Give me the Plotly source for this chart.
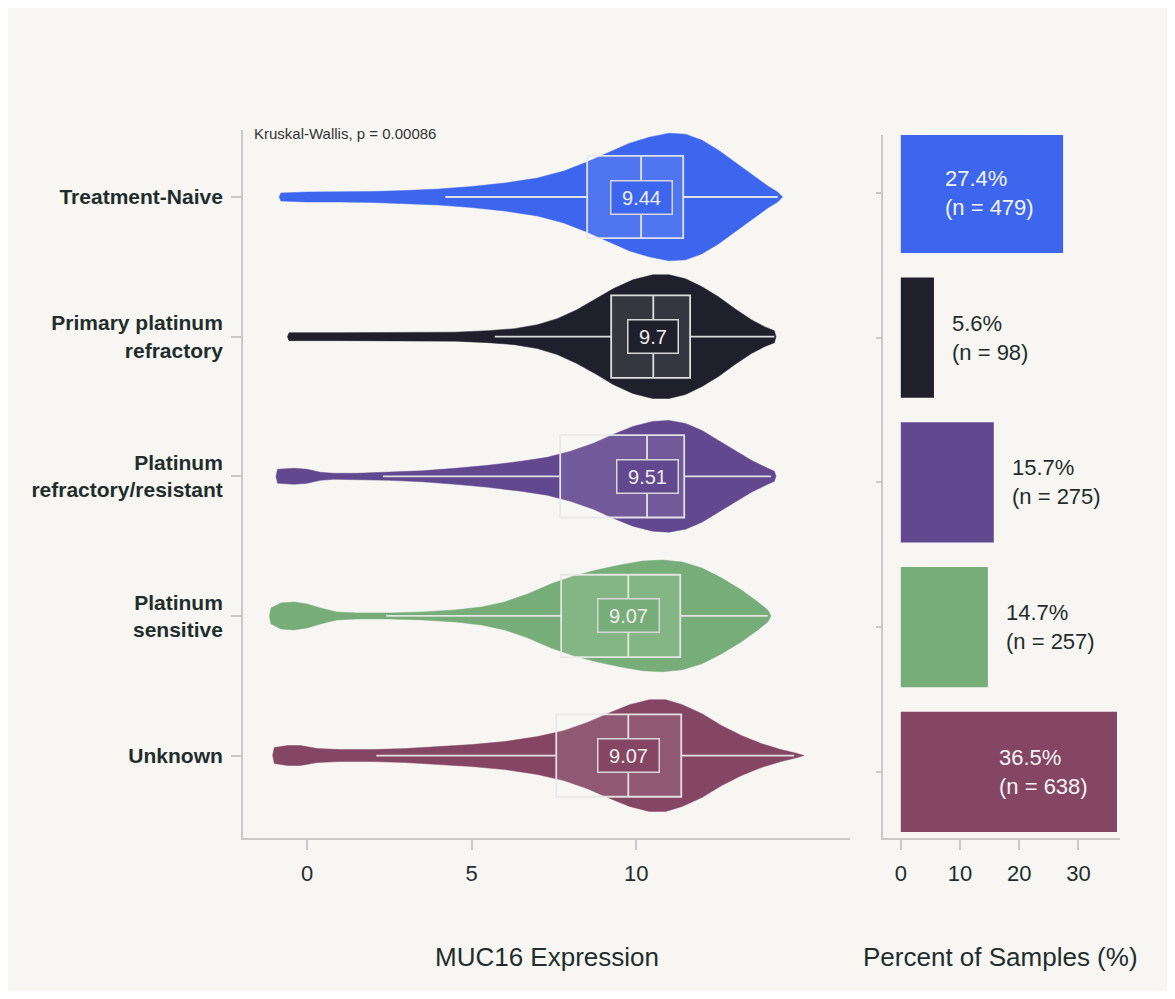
import plotly.graph_objects as go

# ---------------- data ----------------
groups = ["Treatment-Naive", "Primary platinum refractory", "Platinum refractory/resistant",
          "Platinum sensitive", "Unknown"]
group_labels = ["Treatment-Naive", "Primary platinum<br>refractory", "Platinum<br>refractory/resistant",
                "Platinum<br>sensitive", "Unknown"]
colors = ["#3d66ef", "#20202c", "#62488f", "#77ad78", "#854664"]

pct = [27.4, 5.6, 15.7, 14.7, 36.5]
n_samples = [479, 98, 275, 257, 638]

box_q1 = [8.51, 9.24, 7.69, 7.72, 7.57]
box_median = [10.15, 10.52, 10.33, 9.76, 9.76]
box_q3 = [11.43, 11.64, 11.46, 11.34, 11.37]
box_low = [4.2, 5.7, 2.3, 2.4, 2.1]
box_high = [14.3, 14.2, 14.1, 14.0, 14.8]
median_labels = ["9.44", "9.7", "9.51", "9.07", "9.07"]

# violin density profiles: expression value -> half width (px-like units)
tn_x = [-0.85, -0.8, 0, 1, 2, 3, 4, 5, 6, 7, 7.8, 8.5, 9.2, 9.8, 10.4, 11.0, 11.5, 12.0, 12.5, 13.0, 13.5, 14.0, 14.3, 14.45]
tn_d = [0, 4, 5, 5, 5.5, 6.5, 8, 10.5, 14, 19, 26, 35, 45, 54, 60, 64, 63, 57, 47, 35, 23, 11, 5, 0]

pr_x = [-0.6, -0.55, 1, 3, 4.5, 5.5, 6.3, 7.0, 7.6, 8.2, 8.8, 9.3, 9.9, 10.5, 11.0, 11.5, 12.0, 12.5, 13.0, 13.5, 13.9, 14.2, 14.25]
pr_d = [0, 4, 4, 4, 4.5, 6, 8, 12, 18, 27, 38, 48, 57, 62, 62, 58, 50, 40, 28, 17, 10, 6, 0]

rr_x = [-0.95, -0.9, -0.4, 0.0, 0.4, 0.8, 1.5, 2.5, 3.5, 4.5, 5.5, 6.5, 7.3, 8.0, 8.7, 9.3, 9.9, 10.5, 11.0, 11.5, 12.0, 12.5, 13.0, 13.5, 14.0, 14.2, 14.25]
rr_d = [0, 7, 8, 7, 4, 3, 3, 4, 5.5, 8, 11, 15, 19, 25, 33, 42, 50, 55, 56, 53, 46, 36, 26, 16, 8, 5, 0]

ps_x = [-1.15, -1.1, -0.8, -0.4, 0.0, 0.4, 0.9, 1.5, 2.5, 3.5, 4.5, 5.3, 6.0, 6.7, 7.4, 8.1, 8.8, 9.5, 10.2, 10.8, 11.4, 12.0, 12.6, 13.2, 13.7, 14.0, 14.1]
ps_d = [0, 8, 13, 14, 12, 8, 4, 3, 3, 4, 6, 9, 14, 22, 32, 40, 46, 51, 55, 56, 54, 48, 38, 26, 14, 6, 0]

uk_x = [-1.05, -1.0, -0.6, -0.2, 0.3, 1.0, 2.0, 3.0, 4.0, 5.0, 6.0, 7.0, 7.8, 8.5, 9.2, 9.8, 10.4, 10.9, 11.4, 12.0, 12.6, 13.2, 13.8, 14.4, 14.9, 15.1]
uk_d = [0, 8, 10, 10, 7, 6, 6, 7, 9, 11, 14, 19, 25, 33, 43, 51, 56, 56, 51, 42, 30, 20, 12, 6, 2, 0]

profiles = [(tn_x, tn_d), (pr_x, pr_d), (rr_x, rr_d), (ps_x, ps_d), (uk_x, uk_d)]

# ---------------- style ----------------
BG = "#f7f6f2"
TXT = "#1f2d2d"
AX = "#c9c9c9"
FONT = "Liberation Sans, Arial, sans-serif"
DENS_SCALE = 1 / 140.0
Y_RANGE = [4.59, -0.48]

fig = go.Figure()

# violins (drawn as filled density outlines)
for i, (xs, ds) in enumerate(profiles):
    px = list(xs) + list(xs[::-1])
    py = [i - d * DENS_SCALE for d in ds] + [i + d * DENS_SCALE for d in ds[::-1]]
    fig.add_trace(go.Scatter(x=px, y=py, mode="lines", fill="toself",
                             fillcolor=colors[i], line=dict(color=colors[i], width=0.5),
                             hoverinfo="skip", showlegend=False, xaxis="x", yaxis="y"))

# boxes from summary stats (on an overlaying axis so they sit above the violins)
for i in range(len(groups)):
    fig.add_trace(go.Box(y=[i], q1=[box_q1[i]], median=[box_median[i]], q3=[box_q3[i]],
                         lowerfence=[box_low[i]], upperfence=[box_high[i]],
                         orientation="h", width=0.59, whiskerwidth=0,
                         fillcolor="rgba(255,255,255,0.10)",
                         line=dict(color="rgba(232,232,232,0.95)", width=1.8),
                         hoverinfo="skip", showlegend=False, xaxis="x", yaxis="y3"))

# bars
fig.add_trace(go.Bar(y=list(range(len(groups))), x=pct, orientation="h",
                     marker=dict(color=colors, line=dict(width=0)), width=0.83,
                     hoverinfo="skip", showlegend=False, xaxis="x2", yaxis="y2"))

annotations = []
# median labels
for i in range(len(groups)):
    annotations.append(dict(x=box_median[i], y=i, xref="x", yref="y",
                            text="\u00a0" + median_labels[i] + "\u00a0", showarrow=False,
                            font=dict(family=FONT, size=20, color="#eeeeee"),
                            bgcolor=colors[i], bordercolor="#d6d6d6", borderwidth=1.5, borderpad=5))

# bar labels
for i in range(len(groups)):
    inside = pct[i] > 20
    annotations.append(dict(x=pct[i], y=i, xref="x2", yref="y2",
                            text=f"{pct[i]}%<br>(n = {n_samples[i]})", showarrow=False,
                            align="left", xanchor="right" if inside else "left",
                            xshift=-27 if inside else 16,
                            font=dict(family=FONT, size=22, color="#f4f4f4" if inside else TXT)))

# stats text
annotations.append(dict(x=0.2105, y=0.8728, xref="paper", yref="paper", xanchor="left",
                        yanchor="middle", text="Kruskal-Wallis, p = 0.00086", showarrow=False,
                        font=dict(family=FONT, size=15, color="#333333")))
# axis titles
annotations.append(dict(x=0.4647, y=0.0346, xref="paper", yref="paper", text="MUC16 Expression",
                        xanchor="center", yanchor="middle",
                        showarrow=False, font=dict(family=FONT, size=26, color=TXT)))
annotations.append(dict(x=0.856, y=0.0346, xref="paper", yref="paper", text="Percent of Samples (%)",
                        xanchor="center", yanchor="middle",
                        showarrow=False, font=dict(family=FONT, size=26, color=TXT)))

axis_common = dict(showgrid=False, zeroline=False, showline=True, linecolor=AX, linewidth=2,
                   ticks="outside", tickcolor=AX, tickwidth=2)

fig.update_layout(
    width=1159, height=983,
    margin=dict(l=0, r=0, t=0, b=0),
    paper_bgcolor=BG, plot_bgcolor=BG,
    font=dict(family=FONT, color=TXT),
    showlegend=False,
    xaxis=dict(domain=[0.2028, 0.7265], range=[-1.95, 16.5], tickvals=[0, 5, 10],
               ticklen=10, tickfont=dict(size=22, color=TXT), ticklabelstandoff=5,
               anchor="y", **axis_common),
    yaxis=dict(domain=[0.1557, 0.8759], range=Y_RANGE, tickvals=list(range(len(groups))),
               ticktext=group_labels, ticklen=10,
               tickfont=dict(size=21, color=TXT, weight="bold"), ticklabelstandoff=4,
               anchor="x", **axis_common),
    yaxis3=dict(domain=[0.1557, 0.8759], range=Y_RANGE, overlaying="y", anchor="x",
                visible=False, showgrid=False, zeroline=False),
    xaxis2=dict(domain=[0.755, 0.9594], range=[-3, 37], tickvals=[0, 10, 20, 30],
                ticklen=10, tickfont=dict(size=22, color=TXT), ticklabelstandoff=5,
                anchor="y2", **axis_common),
    yaxis2=dict(domain=[0.1557, 0.8708], range=[4.456, -0.40], tickvals=list(range(len(groups))),
                showticklabels=False, ticklen=5, anchor="x2", **axis_common),
    annotations=annotations,
)

fig.write_html("out.html")
